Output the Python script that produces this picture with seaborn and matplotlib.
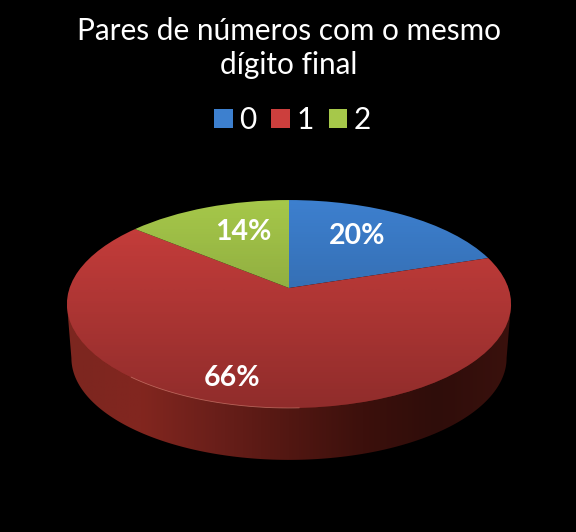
import numpy as np
import matplotlib
matplotlib.use("Agg")
import matplotlib.pyplot as plt
from matplotlib.colors import LinearSegmentedColormap
from matplotlib.patches import Polygon
from matplotlib.transforms import Transform
import seaborn as sns

categories = ["0", "1", "2"]
values = [20, 66, 14]
slice_colors = ["#3d80cf", "#cc3f3d", "#a6c84a"]
title = "Pares de números com o mesmo\ndígito final"

sns.set_theme(style="dark")
plt.rcParams["font.family"] = ["Lato", "DejaVu Sans"]

# pie geometry, in pixels of the output image
CX, CY = 289, 288
RX, RY, PERSP = 219.4, 101.5, 0.154
DEPTH, BOTTOM_SCALE = 54, 0.98


def project(x, y):
    w = 1 + PERSP * y
    return CX + RX * x / w, CY - RY * y / w


class TiltTransform(Transform):
    input_dims = output_dims = 2
    is_affine = False

    def transform_non_affine(self, xy):
        xy = np.asarray(xy, dtype=float)
        px, py = project(xy[:, 0], xy[:, 1])
        return np.column_stack([px, py])


fig = plt.figure(figsize=(5.76, 5.32), dpi=100, facecolor="black")
ax = fig.add_axes([0, 0, 1, 1], facecolor="black")

wedges, _ = ax.pie(values, colors=sns.color_palette(slice_colors), startangle=90,
                   counterclock=False, radius=1, wedgeprops={"linewidth": 0})
tilt = TiltTransform()
for w in wedges:
    w.set_transform(tilt + ax.transData)
    w.set_zorder(2)

# ── side wall, horizontal shading clipped to the rim ──
t = np.linspace(np.pi, 2 * np.pi, 200)
top_x, top_y = project(np.cos(t), np.sin(t))
full = np.linspace(0, 2 * np.pi, 400)
ell_x, ell_y = project(np.cos(full), np.sin(full))
mid_y = (ell_y.max() + ell_y.min()) / 2
half_w = (ell_x.max() - ell_x.min()) / 2
half_h = (ell_y.max() - ell_y.min()) / 2
bot_x = CX + half_w * BOTTOM_SCALE * np.cos(t)
bot_y = mid_y + DEPTH - half_h * BOTTOM_SCALE * np.sin(t)
rim_poly = Polygon(np.vstack([np.column_stack([bot_x, bot_y]),
                              [[ell_x.max(), mid_y]],
                              [[CX, mid_y - 40]],
                              [[ell_x.min(), mid_y]]]),
                   transform=ax.transData, facecolor="none", edgecolor="none")
ax.add_patch(rim_poly)
wall_cmap = LinearSegmentedColormap.from_list(
    "wall", ["#7c2620", "#82261f", "#6a1f1a", "#521712", "#3c100c", "#2f0d0a", "#3a110d"])
wall = ax.imshow(np.linspace(0, 1, 256)[None, :], cmap=wall_cmap, extent=[67, 511, 470, 290],
                 aspect="auto", zorder=1)
wall.set_clip_path(rim_poly)

# ── darker towards the front on the top face ──
fade = np.zeros((256, 1, 4))
fade[:, 0, 3] = np.linspace(0, 0.3, 256)
face = Polygon(np.column_stack([ell_x, ell_y]), transform=ax.transData,
               facecolor="none", edgecolor="none")
ax.add_patch(face)
overlay = ax.imshow(fade, extent=[60, 520, 410, 198], aspect="auto", zorder=3)
overlay.set_clip_path(face)

# thin highlight on the front edge
edge = (top_x > 130) & (top_x < 300)
ax.plot(top_x[edge], top_y[edge], color="#d98a7c", lw=0.6, alpha=0.6, zorder=4)

ax.set_aspect("auto")
ax.set_xlim(0, 576)
ax.set_ylim(532, 0)
ax.set_axis_off()

# percent labels
label_pos = [(357, 236), (232, 378), (243, 232)]
for v, (lx, ly) in zip(values, label_pos):
    ax.text(lx, ly, f"{v}%", color="white", fontsize=20.5, fontweight="bold",
            ha="center", va="center", zorder=5)

ax.text(289, 48, title, color="white", fontsize=21.4, ha="center", va="center",
        linespacing=1.22, zorder=5)

leg = ax.legend(wedges, categories, ncol=3, frameon=False, loc="center",
                bbox_to_anchor=(292.5, 120), bbox_transform=ax.transData,
                fontsize=21.5, labelcolor="white", handlelength=0.62, handleheight=0.62,
                handletextpad=0.22, columnspacing=0.5, borderpad=0)

fig.savefig("out.png", dpi=100, facecolor="black")
plt.close(fig)
